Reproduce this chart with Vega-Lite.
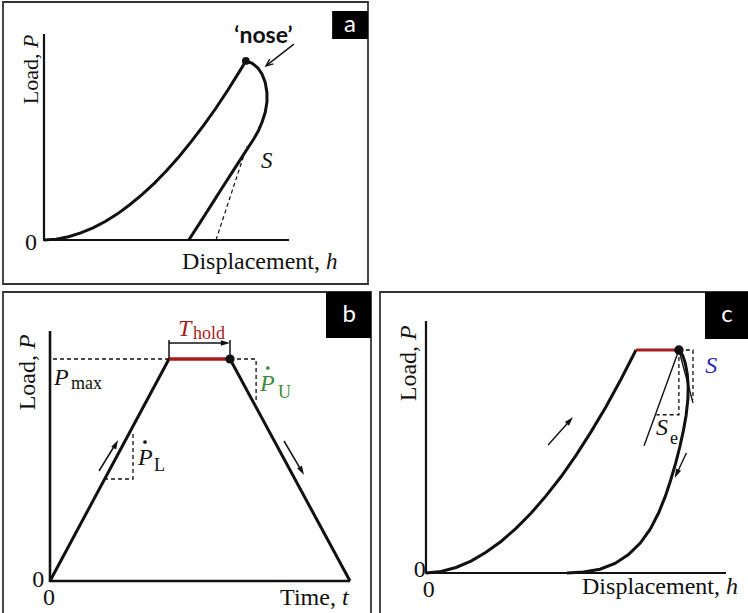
{
"$schema":"https://vega.github.io/schema/vega-lite/v6.json",
"padding":{"left":2,"top":1,"right":0,"bottom":0},
"background":"white",
"config":{"view":{"stroke":"#333333","strokeWidth":1.8}},
"spacing":6,
"vconcat":[
{
"width":365,"height":282,
"encoding":{
 "x":{"field":"h","type":"quantitative","scale":{"domain":[-16.73,132.24],"nice":false,"zero":false},"axis":null},
 "y":{"field":"P","type":"quantitative","scale":{"domain":[-21.36,115.53],"nice":false,"zero":false},"axis":null}
},
"layer":[
 {"data":{"values":[{"s":"ax","i":0,"h":0,"P":100},{"s":"ax","i":1,"h":0,"P":0},{"s":"ax","i":2,"h":100,"P":0}]},
  "mark":{"type":"line","color":"#111111","strokeWidth":2.2},"encoding":{"detail":{"field":"s"},"order":{"field":"i","type":"quantitative"}}},
 {"data":{"values":[
  {"s":"load","i":0,"h":0,"P":0},{"s":"load","i":1,"h":5,"P":0.42},{"s":"load","i":2,"h":10,"P":1.58},{"s":"load","i":3,"h":15,"P":3.42},{"s":"load","i":4,"h":20,"P":5.9},{"s":"load","i":5,"h":25,"P":9.0},{"s":"load","i":6,"h":30,"P":12.7},{"s":"load","i":7,"h":35,"P":17.1},{"s":"load","i":8,"h":40,"P":22.0},{"s":"load","i":9,"h":45,"P":27.5},{"s":"load","i":10,"h":50,"P":33.6},{"s":"load","i":11,"h":55,"P":40.3},{"s":"load","i":12,"h":60,"P":47.6},{"s":"load","i":13,"h":65,"P":55.4},{"s":"load","i":14,"h":70,"P":63.7},{"s":"load","i":15,"h":75,"P":72.7},{"s":"load","i":16,"h":80,"P":82.2},{"s":"load","i":17,"h":82.4,"P":86.9},
  {"s":"unload","i":0,"h":82.4,"P":86.9},{"s":"unload","i":1,"h":85.0,"P":85.8},{"s":"unload","i":2,"h":87.3,"P":83.5},{"s":"unload","i":3,"h":89.0,"P":80.5},{"s":"unload","i":4,"h":90.3,"P":76.5},{"s":"unload","i":5,"h":91.0,"P":71.5},{"s":"unload","i":6,"h":91.0,"P":67.0},{"s":"unload","i":7,"h":90.3,"P":62.0},{"s":"unload","i":8,"h":89.1,"P":57.5},{"s":"unload","i":9,"h":87.5,"P":53.0},{"s":"unload","i":10,"h":85.6,"P":49.0},{"s":"unload","i":11,"h":83.4,"P":45.0},{"s":"unload","i":12,"h":81.0,"P":40.6},{"s":"unload","i":13,"h":78.5,"P":36.0},{"s":"unload","i":14,"h":75.8,"P":31.0},{"s":"unload","i":15,"h":72.8,"P":25.5},{"s":"unload","i":16,"h":69.6,"P":19.5},{"s":"unload","i":17,"h":66.2,"P":13.1},{"s":"unload","i":18,"h":62.7,"P":6.6},{"s":"unload","i":19,"h":59.1,"P":0}
 ]},
  "mark":{"type":"line","color":"#111111","strokeWidth":3},"encoding":{"detail":{"field":"s"},"order":{"field":"i","type":"quantitative"}}},
 {"data":{"values":[{"i":0,"h":70.2,"P":0},{"i":1,"h":82.8,"P":45.5}]},
  "mark":{"type":"line","color":"#111111","strokeWidth":1.2,"strokeDash":[4,3]},"encoding":{"order":{"field":"i","type":"quantitative"}}},
 {"data":{"values":[{"i":0,"h":102,"P":95.1},{"i":1,"h":90.6,"P":84.5}]},
  "mark":{"type":"line","color":"#111111","strokeWidth":1.4},"encoding":{"order":{"field":"i","type":"quantitative"}}},
 {"data":{"values":[{"h":90.6,"P":84.5}]},
  "mark":{"type":"point","shape":"M-0.55,1.3L0,0L0.55,1.3","filled":false,"color":"#111111","strokeWidth":1.4,"opacity":1,"size":120,"angle":231.8}},
 {"data":{"values":[{"h":82.4,"P":86.9}]},
  "mark":{"type":"point","shape":"circle","filled":true,"color":"#111111","opacity":1,"size":60}},
 {"data":{"values":[{"h":-5.3,"P":-4.85,"label":"0"}]},
  "mark":{"type":"text","font":"Liberation Serif","fontSize":24,"align":"center","baseline":"alphabetic","color":"#111111"},"encoding":{"text":{"field":"label"}}},
 {"data":{"values":[{"h":115.1,"P":-14.2,"label":"Displacement,"}]},
  "mark":{"type":"text","font":"Liberation Serif","fontSize":24,"align":"right","baseline":"alphabetic","color":"#111111","dx":-6},"encoding":{"text":{"field":"label"}}},
 {"data":{"values":[{"h":115.1,"P":-14.2,"label":"h"},{"h":88.6,"P":35,"label":"S"}]},
  "mark":{"type":"text","font":"Liberation Serif","fontSize":23,"fontStyle":"italic","align":"left","baseline":"alphabetic","color":"#111111"},"encoding":{"text":{"field":"label"}}},
 {"data":{"values":[{"h":-2.45,"P":93.2,"label":"Load,"}]},
  "mark":{"type":"text","font":"Liberation Serif","fontSize":22,"align":"right","baseline":"alphabetic","angle":270,"color":"#111111","dx":-5.5},"encoding":{"text":{"field":"label"}}},
 {"data":{"values":[{"h":-2.45,"P":93.2,"label":"P"}]},
  "mark":{"type":"text","font":"Liberation Serif","fontSize":22,"fontStyle":"italic","align":"left","baseline":"alphabetic","angle":270,"color":"#111111"},"encoding":{"text":{"field":"label"}}},
 {"data":{"values":[{"h":89.6,"P":95.6,"label":"\u2018nose\u2019"}]},
  "mark":{"type":"text","font":"Lato","fontWeight":"bold","fontSize":23,"align":"center","baseline":"alphabetic","color":"#111111"},"encoding":{"text":{"field":"label"}}},
 {"data":{"values":[{"h":117.6,"h2":132.24,"P":97.6,"P2":111.2}]},
  "mark":{"type":"rect","color":"#000000"},"encoding":{"x2":{"field":"h2"},"y2":{"field":"P2"}}},
 {"data":{"values":[{"h":124.9,"P":104.4,"label":"a"}]},
  "mark":{"type":"text","font":"Lato","fontSize":24,"align":"center","baseline":"middle","color":"#ffffff"},"encoding":{"text":{"field":"label"}}}
]
},
{"hconcat":[
{
"width":368,"height":322,
"encoding":{
 "x":{"field":"t","type":"quantitative","scale":{"domain":[-15.67,107],"nice":false,"zero":false},"axis":null},
 "y":{"field":"P","type":"quantitative","scale":{"domain":[-13.2,115.6],"nice":false,"zero":false},"axis":null}
},
"layer":[
 {"data":{"values":[{"s":"ax","i":0,"t":0,"P":100},{"s":"ax","i":1,"t":0,"P":0},{"s":"ax","i":2,"t":100,"P":0}]},
  "mark":{"type":"line","color":"#111111","strokeWidth":2.6},"encoding":{"detail":{"field":"s"},"order":{"field":"i","type":"quantitative"}}},
 {"data":{"values":[{"s":"up","i":0,"t":0,"P":0},{"s":"up","i":1,"t":39.67,"P":88.8},{"s":"down","i":0,"t":60,"P":88.8},{"s":"down","i":1,"t":100,"P":0}]},
  "mark":{"type":"line","color":"#111111","strokeWidth":3},"encoding":{"detail":{"field":"s"},"order":{"field":"i","type":"quantitative"}}},
 {"data":{"values":[{"i":0,"t":39.67,"P":88.8},{"i":1,"t":60,"P":88.8}]},
  "mark":{"type":"line","color":"#a81c1c","strokeWidth":3.5},"encoding":{"order":{"field":"i","type":"quantitative"}}},
 {"data":{"values":[{"s":"max","i":0,"t":1,"P":88.8},{"s":"max","i":1,"t":39.67,"P":88.8},{"s":"u","i":0,"t":60,"P":88.8},{"s":"u","i":1,"t":68.7,"P":88.8},{"s":"u","i":2,"t":68.7,"P":72.4},{"s":"l","i":0,"t":18,"P":40.8},{"s":"l","i":1,"t":27.67,"P":40.8},{"s":"l","i":2,"t":27.67,"P":60}]},
  "mark":{"type":"line","color":"#111111","strokeWidth":1.3,"strokeDash":[4,3]},"encoding":{"detail":{"field":"s"},"order":{"field":"i","type":"quantitative"}}},
 {"data":{"values":[{"s":"k1","i":0,"t":39.67,"P":96.4},{"s":"k1","i":1,"t":39.67,"P":88.8},{"s":"k2","i":0,"t":60,"P":96.4},{"s":"k2","i":1,"t":60,"P":88.8},{"s":"hs","i":0,"t":39.67,"P":95.2},{"s":"hs","i":1,"t":58,"P":95.2},{"s":"la","i":0,"t":16.33,"P":44},{"s":"la","i":1,"t":21.6,"P":54.3},{"s":"ua","i":0,"t":78,"P":56},{"s":"ua","i":1,"t":83.67,"P":44.44}]},
  "mark":{"type":"line","color":"#111111","strokeWidth":1.5},"encoding":{"detail":{"field":"s"},"order":{"field":"i","type":"quantitative"}}},
 {"data":{"values":[{"t":60,"P":95.2}]},"mark":{"type":"point","shape":"M0,0L0.45,1.5L-0.45,1.5Z","filled":true,"color":"#111111","opacity":1,"size":150,"angle":90}},
 {"data":{"values":[{"t":22.67,"P":56.4}]},"mark":{"type":"point","shape":"M0,0L0.45,1.5L-0.45,1.5Z","filled":true,"color":"#111111","opacity":1,"size":150,"angle":28}},
 {"data":{"values":[{"t":84.67,"P":42.4}]},"mark":{"type":"point","shape":"M0,0L0.45,1.5L-0.45,1.5Z","filled":true,"color":"#111111","opacity":1,"size":150,"angle":151}},
 {"data":{"values":[{"t":60,"P":88.8}]},"mark":{"type":"point","shape":"circle","filled":true,"color":"#111111","opacity":1,"size":85}},
 {"data":{"values":[{"t":31.67,"P":55.6}]},"mark":{"type":"point","shape":"circle","filled":true,"color":"#111111","opacity":1,"size":14}},
 {"data":{"values":[{"t":72.6,"P":85.2}]},"mark":{"type":"point","shape":"circle","filled":true,"color":"#3a8a3a","opacity":1,"size":14}},
 {"data":{"values":[{"t":-3.9,"P":0.3,"label":"0"},{"t":-0.3,"P":-6.9,"label":"0"}]},
  "mark":{"type":"text","font":"Liberation Serif","fontSize":24,"align":"center","baseline":"middle","color":"#111111"},"encoding":{"text":{"field":"label"}}},
 {"data":{"values":[{"t":97.3,"P":-9.5,"label":"Time,"}]},
  "mark":{"type":"text","font":"Liberation Serif","fontSize":24,"align":"right","baseline":"alphabetic","color":"#111111","dx":-6},"encoding":{"text":{"field":"label"}}},
 {"data":{"values":[{"t":97.3,"P":-9.5,"label":"t"},{"t":1.33,"P":78.4,"label":"P"},{"t":29.33,"P":46.4,"label":"P"}]},
  "mark":{"type":"text","font":"Liberation Serif","fontSize":24,"fontStyle":"italic","align":"left","baseline":"alphabetic","color":"#111111"},"encoding":{"text":{"field":"label"}}},
 {"data":{"values":[{"t":7,"P":76.8,"label":"max"},{"t":34.67,"P":44,"label":"L"}]},
  "mark":{"type":"text","font":"Liberation Serif","fontSize":18,"align":"left","baseline":"alphabetic","color":"#111111"},"encoding":{"text":{"field":"label"}}},
 {"data":{"values":[{"t":70,"P":76,"label":"P"}]},
  "mark":{"type":"text","font":"Liberation Serif","fontSize":24,"fontStyle":"italic","align":"left","baseline":"alphabetic","color":"#3a8a3a"},"encoding":{"text":{"field":"label"}}},
 {"data":{"values":[{"t":76,"P":73.2,"label":"U"}]},
  "mark":{"type":"text","font":"Liberation Serif","fontSize":18,"align":"left","baseline":"alphabetic","color":"#3a8a3a"},"encoding":{"text":{"field":"label"}}},
 {"data":{"values":[{"t":42.67,"P":98,"label":"T"}]},
  "mark":{"type":"text","font":"Liberation Serif","fontSize":24,"fontStyle":"italic","align":"left","baseline":"alphabetic","color":"#a81c1c"},"encoding":{"text":{"field":"label"}}},
 {"data":{"values":[{"t":47.67,"P":96.8,"label":"hold"}]},
  "mark":{"type":"text","font":"Liberation Serif","fontSize":18,"align":"left","baseline":"alphabetic","color":"#a81c1c"},"encoding":{"text":{"field":"label"}}},
 {"data":{"values":[{"t":-5,"P":92.8,"label":"Load,"}]},
  "mark":{"type":"text","font":"Liberation Serif","fontSize":24,"align":"right","baseline":"alphabetic","angle":270,"color":"#111111","dx":-6},"encoding":{"text":{"field":"label"}}},
 {"data":{"values":[{"t":-5,"P":92.8,"label":"P"}]},
  "mark":{"type":"text","font":"Liberation Serif","fontSize":24,"fontStyle":"italic","align":"left","baseline":"alphabetic","angle":270,"color":"#111111"},"encoding":{"text":{"field":"label"}}},
 {"data":{"values":[{"t":92,"t2":107,"P":97.2,"P2":115.6}]},
  "mark":{"type":"rect","color":"#000000"},"encoding":{"x2":{"field":"t2"},"y2":{"field":"P2"}}},
 {"data":{"values":[{"t":99.7,"P":106.4,"label":"b"}]},
  "mark":{"type":"text","font":"Lato","fontSize":24,"align":"center","baseline":"middle","color":"#ffffff"},"encoding":{"text":{"field":"label"}}}
]
},
{
"width":369,"height":322,
"encoding":{
 "x":{"field":"h","type":"quantitative","scale":{"domain":[-15.33,107.67],"nice":false,"zero":false},"axis":null},
 "y":{"field":"P","type":"quantitative","scale":{"domain":[-16.27,111.51],"nice":false,"zero":false},"axis":null}
},
"layer":[
 {"data":{"values":[{"s":"ax","i":0,"h":0,"P":100},{"s":"ax","i":1,"h":0,"P":0},{"s":"ax","i":2,"h":100,"P":0}]},
  "mark":{"type":"line","color":"#111111","strokeWidth":2.2},"encoding":{"detail":{"field":"s"},"order":{"field":"i","type":"quantitative"}}},
 {"data":{"values":[
  {"s":"load","i":0,"h":0,"P":0},{"s":"load","i":1,"h":5,"P":0.59},{"s":"load","i":2,"h":10,"P":2.19},{"s":"load","i":3,"h":15,"P":4.74},{"s":"load","i":4,"h":20,"P":8.2},{"s":"load","i":5,"h":25,"P":12.5},{"s":"load","i":6,"h":30,"P":17.7},{"s":"load","i":7,"h":35,"P":23.7},{"s":"load","i":8,"h":40,"P":30.6},{"s":"load","i":9,"h":45,"P":38.2},{"s":"load","i":10,"h":50,"P":46.7},{"s":"load","i":11,"h":55,"P":56.0},{"s":"load","i":12,"h":60,"P":66.0},{"s":"load","i":13,"h":65,"P":76.9},{"s":"load","i":14,"h":70,"P":88.5},
  {"s":"unload","i":0,"h":84.3,"P":88.5},{"s":"unload","i":1,"h":85.5,"P":86.5},{"s":"unload","i":2,"h":86.4,"P":83.4},{"s":"unload","i":3,"h":87.1,"P":79.0},{"s":"unload","i":4,"h":87.4,"P":74.0},{"s":"unload","i":5,"h":87.3,"P":69.0},{"s":"unload","i":6,"h":86.7,"P":62.5},{"s":"unload","i":7,"h":85.8,"P":56.5},{"s":"unload","i":8,"h":84.6,"P":50.0},{"s":"unload","i":9,"h":83.2,"P":43.5},{"s":"unload","i":10,"h":81.6,"P":37.0},{"s":"unload","i":11,"h":79.8,"P":30.5},{"s":"unload","i":12,"h":77.6,"P":24.0},{"s":"unload","i":13,"h":74.8,"P":17.5},{"s":"unload","i":14,"h":71.5,"P":12.0},{"s":"unload","i":15,"h":67.5,"P":7.3},{"s":"unload","i":16,"h":63.0,"P":3.8},{"s":"unload","i":17,"h":58.0,"P":1.5},{"s":"unload","i":18,"h":52.5,"P":0.4},{"s":"unload","i":19,"h":47,"P":0}
 ]},
  "mark":{"type":"line","color":"#111111","strokeWidth":3},"encoding":{"detail":{"field":"s"},"order":{"field":"i","type":"quantitative"}}},
 {"data":{"values":[{"i":0,"h":70,"P":88.5},{"i":1,"h":84.3,"P":88.5}]},
  "mark":{"type":"line","color":"#a81c1c","strokeWidth":3},"encoding":{"order":{"field":"i","type":"quantitative"}}},
 {"data":{"values":[{"s":"se","i":0,"h":72.7,"P":50.5},{"s":"se","i":1,"h":84.3,"P":88.5},{"s":"sl","i":0,"h":84.3,"P":88.5},{"s":"sl","i":1,"h":89,"P":67.5},{"s":"la","i":0,"h":40.7,"P":50.8},{"s":"la","i":1,"h":47.7,"P":60.1},{"s":"ua","i":0,"h":86.8,"P":47.6},{"s":"ua","i":1,"h":83.76,"P":39.88}]},
  "mark":{"type":"line","color":"#111111","strokeWidth":1.4},"encoding":{"detail":{"field":"s"},"order":{"field":"i","type":"quantitative"}}},
 {"data":{"values":[{"s":"a","i":0,"h":84.3,"P":88.5},{"s":"a","i":1,"h":89,"P":88.5},{"s":"a","i":2,"h":89,"P":68.8},{"s":"b","i":0,"h":84.3,"P":88.5},{"s":"b","i":1,"h":84.3,"P":62.8},{"s":"b","i":2,"h":76.8,"P":62.8}]},
  "mark":{"type":"line","color":"#111111","strokeWidth":1.3,"strokeDash":[4,3]},"encoding":{"detail":{"field":"s"},"order":{"field":"i","type":"quantitative"}}},
 {"data":{"values":[{"h":49,"P":61.9}]},"mark":{"type":"point","shape":"M0,0L0.45,1.5L-0.45,1.5Z","filled":true,"color":"#111111","opacity":1,"size":150,"angle":41.5}},
 {"data":{"values":[{"h":82.9,"P":37.7}]},"mark":{"type":"point","shape":"M0,0L0.45,1.5L-0.45,1.5Z","filled":true,"color":"#111111","opacity":1,"size":150,"angle":205}},
 {"data":{"values":[{"h":84.3,"P":88.5}]},"mark":{"type":"point","shape":"circle","filled":true,"color":"#111111","opacity":1,"size":90}},
 {"data":{"values":[{"h":-2.1,"P":1.0,"label":"0"},{"h":0.9,"P":-6.6,"label":"0"}]},
  "mark":{"type":"text","font":"Liberation Serif","fontSize":24,"align":"center","baseline":"middle","color":"#111111"},"encoding":{"text":{"field":"label"}}},
 {"data":{"values":[{"h":100,"P":-8.3,"label":"Displacement,"}]},
  "mark":{"type":"text","font":"Liberation Serif","fontSize":24,"align":"right","baseline":"alphabetic","color":"#111111","dx":-6},"encoding":{"text":{"field":"label"}}},
 {"data":{"values":[{"h":100,"P":-8.3,"label":"h"}]},
  "mark":{"type":"text","font":"Liberation Serif","fontSize":24,"fontStyle":"italic","align":"left","baseline":"alphabetic","color":"#111111"},"encoding":{"text":{"field":"label"}}},
 {"data":{"values":[{"h":78.7,"P":57.5,"label":"S"}]},
  "mark":{"type":"text","font":"Liberation Serif","fontSize":24,"fontStyle":"italic","align":"center","baseline":"middle","color":"#111111"},"encoding":{"text":{"field":"label"}}},
 {"data":{"values":[{"h":82.7,"P":53.2,"label":"e"}]},
  "mark":{"type":"text","font":"Liberation Serif","fontSize":18,"align":"center","baseline":"middle","color":"#111111"},"encoding":{"text":{"field":"label"}}},
 {"data":{"values":[{"h":95.1,"P":82.1,"label":"S"}]},
  "mark":{"type":"text","font":"Liberation Serif","fontSize":24,"fontStyle":"italic","align":"center","baseline":"middle","color":"#2b2bb0"},"encoding":{"text":{"field":"label"}}},
 {"data":{"values":[{"h":-3.33,"P":92.5,"label":"Load,"}]},
  "mark":{"type":"text","font":"Liberation Serif","fontSize":24,"align":"right","baseline":"alphabetic","angle":270,"color":"#111111","dx":-6},"encoding":{"text":{"field":"label"}}},
 {"data":{"values":[{"h":-3.33,"P":92.5,"label":"P"}]},
  "mark":{"type":"text","font":"Liberation Serif","fontSize":24,"fontStyle":"italic","align":"left","baseline":"alphabetic","angle":270,"color":"#111111"},"encoding":{"text":{"field":"label"}}},
 {"data":{"values":[{"h":93,"h2":107.67,"P":92.9,"P2":111.51}]},
  "mark":{"type":"rect","color":"#000000"},"encoding":{"x2":{"field":"h2"},"y2":{"field":"P2"}}},
 {"data":{"values":[{"h":100.3,"P":102.4,"label":"c"}]},
  "mark":{"type":"text","font":"Lato","fontSize":24,"align":"center","baseline":"middle","color":"#ffffff"},"encoding":{"text":{"field":"label"}}}
]
}
],"spacing":7}
]
}
